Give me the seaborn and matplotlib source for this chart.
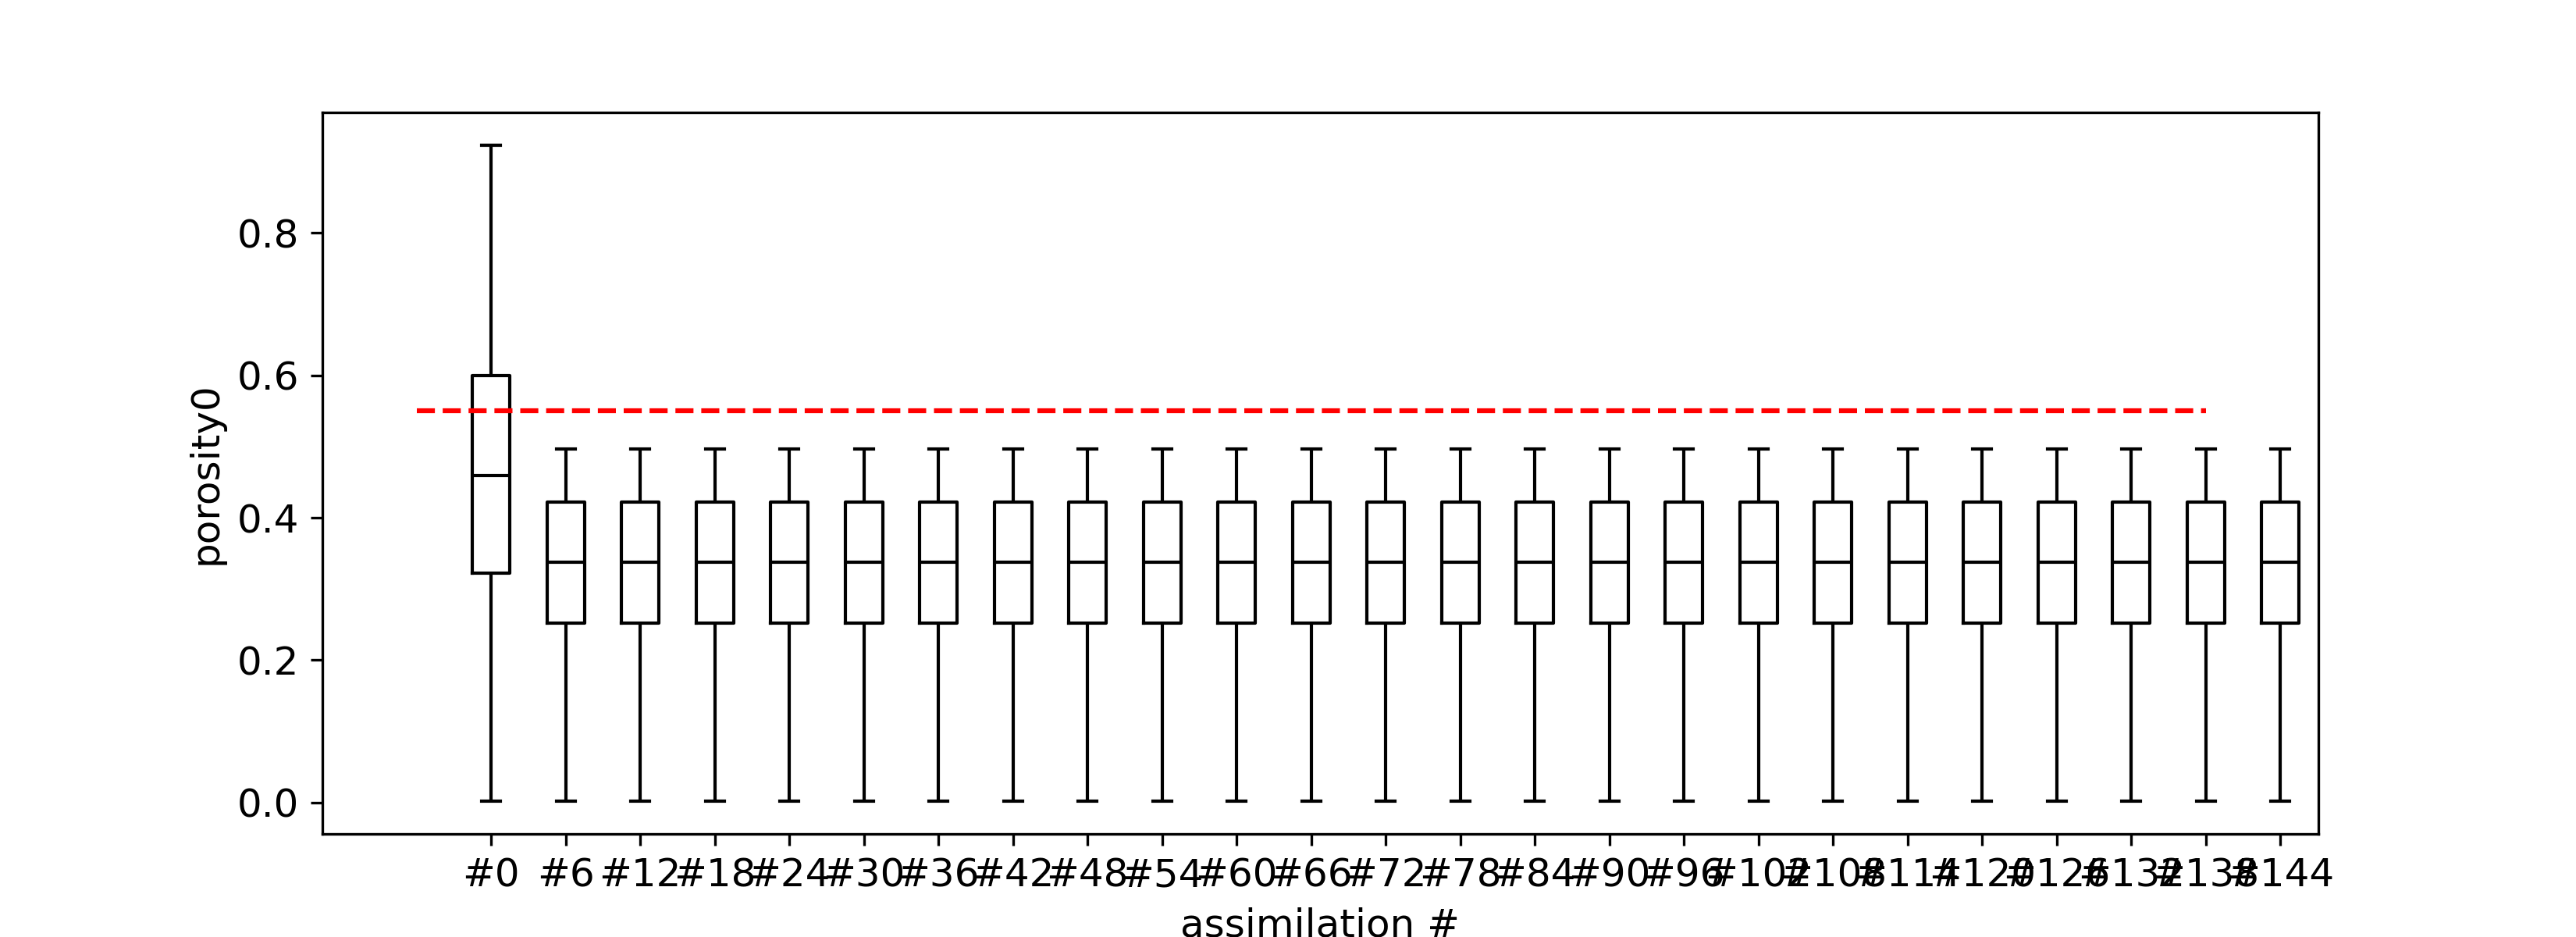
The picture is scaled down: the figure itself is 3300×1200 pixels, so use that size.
import numpy as np
import pandas as pd
import matplotlib
matplotlib.use("Agg")
import matplotlib.pyplot as plt
import seaborn as sns

plt.rcParams['font.size'] = 12

# assimilation steps shown on the x axis
steps = list(range(0, 145, 6))
labels = ['#' + str(s) for s in steps]

# box statistics (min, q1, median, q3, max)
whisker_low = [0.002] * len(steps)
q1 = [0.3225] + [0.252] * (len(steps) - 1)
median = [0.4595] + [0.338] * (len(steps) - 1)
q3 = [0.5995] + [0.422] * (len(steps) - 1)
whisker_high = [0.923] + [0.496] * (len(steps) - 1)

# reference (true) porosity value
true_porosity = 0.55

# build a long-form table, 5 values per step give exactly these quartiles
rows = []
for i, lab in enumerate(labels):
    for v in (whisker_low[i], q1[i], median[i], q3[i], whisker_high[i]):
        rows.append({'assimilation #': lab, 'porosity0': v})
df = pd.DataFrame(rows)

fig = plt.figure(figsize=(11, 4), dpi=300)
ax = fig.add_subplot(111)

sns.boxplot(data=df, x='assimilation #', y='porosity0', order=labels,
            fill=False, color='black', linewidth=1, width=0.5,
            whis=(0, 100), ax=ax)

# dashed line for the true value
ax.hlines(true_porosity, -1, len(labels) - 2, colors='red',
          linestyles='--', linewidth=1.5)

ax.set_xlim(-2.27, len(labels) - 0.49)
ax.set_xlabel('assimilation #')
ax.set_ylabel('porosity0')

fig.savefig('out.png', dpi=300)
